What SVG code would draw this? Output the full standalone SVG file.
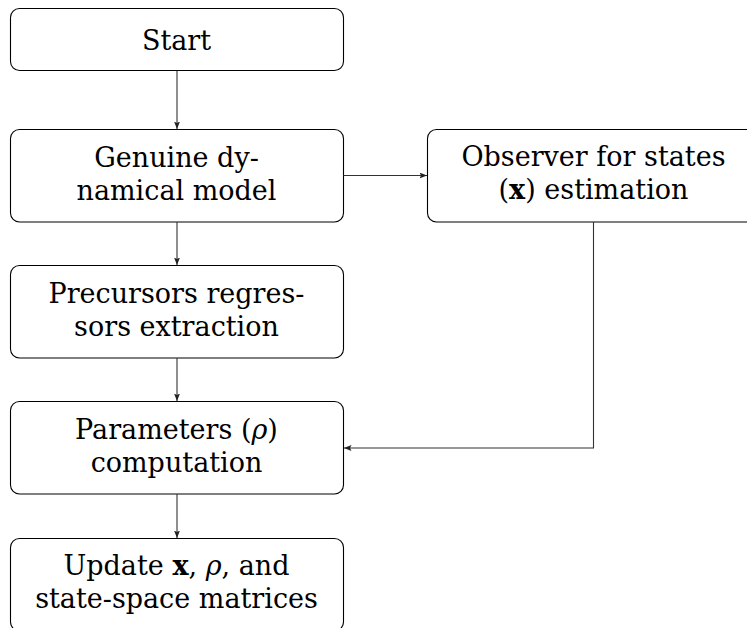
<svg xmlns="http://www.w3.org/2000/svg" width="747" height="628" viewBox="0 0 747 628">
<style>
  .box { fill: #ffffff; stroke: #000000; stroke-width: 1.1; }
  .lbl { font-family: 'DejaVu Serif', 'Liberation Serif', serif; font-size: 27px; fill: #000000; text-anchor: middle; }
  .b { font-weight: bold; }
  .i { font-style: italic; }
  .conn { fill: none; stroke: #333333; stroke-width: 1.1; }
</style>
<defs>
  <marker id="arrow" markerUnits="userSpaceOnUse" markerWidth="10" markerHeight="8" refX="7.5" refY="3" orient="auto">
    <path d="M0,0 L7.5,3 L0,6 L1.5,3 Z" fill="#222222"/>
  </marker>
</defs>
<rect width="747" height="628" fill="#ffffff"/>

<g id="node-start">
  <rect class="box" x="10.5" y="8.5" width="333" height="62" rx="9"/>
  <text class="lbl" x="176.5" y="50">Start</text>
</g>

<g id="node-genuine">
  <rect class="box" x="10.5" y="129.5" width="333" height="92.5" rx="9"/>
  <text class="lbl" x="176.5" y="167">Genuine dy-</text>
  <text class="lbl" x="176.5" y="200">namical model</text>
</g>

<g id="node-observer">
  <rect class="box" x="427.5" y="129.5" width="333" height="92.5" rx="9"/>
  <text class="lbl" x="593.5" y="166">Observer for states</text>
  <text class="lbl" x="593.5" y="199">(<tspan class="b">x</tspan>) estimation</text>
</g>

<g id="node-precursors">
  <rect class="box" x="10.5" y="265.5" width="333" height="92.5" rx="9"/>
  <text class="lbl" x="176.5" y="303">Precursors regres-</text>
  <text class="lbl" x="176.5" y="336">sors extraction</text>
</g>

<g id="node-parameters">
  <rect class="box" x="10.5" y="401.5" width="333" height="92.5" rx="9"/>
  <text class="lbl" x="176.5" y="439">Parameters (<tspan class="i">ρ</tspan>)</text>
  <text class="lbl" x="176.5" y="472">computation</text>
</g>

<g id="node-update">
  <rect class="box" x="10.5" y="538.5" width="333" height="92.5" rx="9"/>
  <text class="lbl" x="176.5" y="575">Update <tspan class="b">x</tspan>, <tspan class="i">ρ</tspan>, and</text>
  <text class="lbl" x="176.5" y="608">state-space matrices</text>
</g>

<g id="connectors">
  <line class="conn" x1="177" y1="71" x2="177" y2="129" marker-end="url(#arrow)"/>
  <line class="conn" x1="177" y1="222" x2="177" y2="265" marker-end="url(#arrow)"/>
  <line class="conn" x1="177" y1="358" x2="177" y2="401" marker-end="url(#arrow)"/>
  <line class="conn" x1="177" y1="494" x2="177" y2="538" marker-end="url(#arrow)"/>
  <line class="conn" x1="343.5" y1="175.5" x2="427" y2="175.5" marker-end="url(#arrow)"/>
  <polyline class="conn" points="593.5,222 593.5,448 344,448" marker-end="url(#arrow)"/>
</g>
</svg>
